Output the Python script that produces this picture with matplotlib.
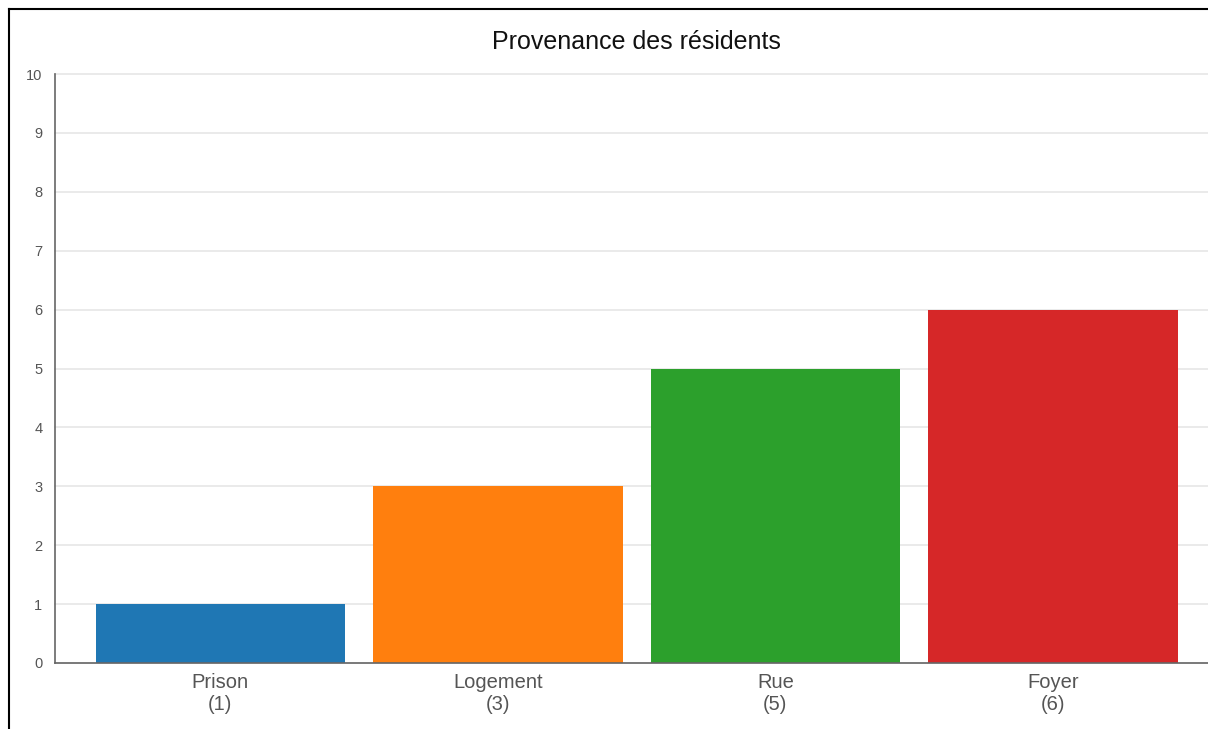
import matplotlib
matplotlib.use("Agg")
from matplotlib import pyplot as plt
from matplotlib.lines import Line2D

categories = ["Prison", "Logement", "Rue", "Foyer"]
values = [1, 3, 5, 6]
colors = ["#1f77b4", "#ff7f0e", "#2ca02c", "#d62728"]
yticks = list(range(0, 11))

plt.rcParams["font.family"] = ["Liberation Sans", "DejaVu Sans"]

fig = plt.figure(figsize=(12.08, 7.29), dpi=100)
ax = fig.add_axes([55 / 1208, 66 / 729, 1153 / 1208, 589 / 729])

x = range(len(categories))
ax.bar(x, values, width=0.9, color=colors, zorder=2)

ax.set_xlim(-0.596, 3.559)
ax.set_ylim(0, 10)
ax.set_yticks(yticks)
ax.set_xticks(list(x))
ax.set_xticklabels([f"{c}\n({v})" for c, v in zip(categories, values)],
                   linespacing=1.25)

ax.grid(axis="y", color="#e6e6e6", linewidth=1.2, zorder=0)
for gl in ax.get_ygridlines():
    gl.set_clip_on(False)
ax.tick_params(axis="y", length=0, labelsize=10.5, labelcolor="#555555", pad=9)
ax.tick_params(axis="x", length=0, labelsize=14.5, labelcolor="#555555", pad=7)
for s in ["top", "right"]:
    ax.spines[s].set_visible(False)
for s in ["left", "bottom"]:
    ax.spines[s].set_color("#666666")
    ax.spines[s].set_linewidth(1.2)
ax.spines["bottom"].set_zorder(3)

fig.text(636 / 1208, 1 - 42 / 729, "Provenance des résidents", ha="center",
         va="center", fontsize=18, color="#111111")

# outer frame (only left and top visible)
fig.add_artist(Line2D([8.5 / 1208, 8.5 / 1208], [0, 1 - 8.5 / 729], color="black", linewidth=1.5))
fig.add_artist(Line2D([8.5 / 1208, 1], [1 - 8.5 / 729, 1 - 8.5 / 729], color="black", linewidth=1.5))

plt.savefig("out.png", dpi=100)
